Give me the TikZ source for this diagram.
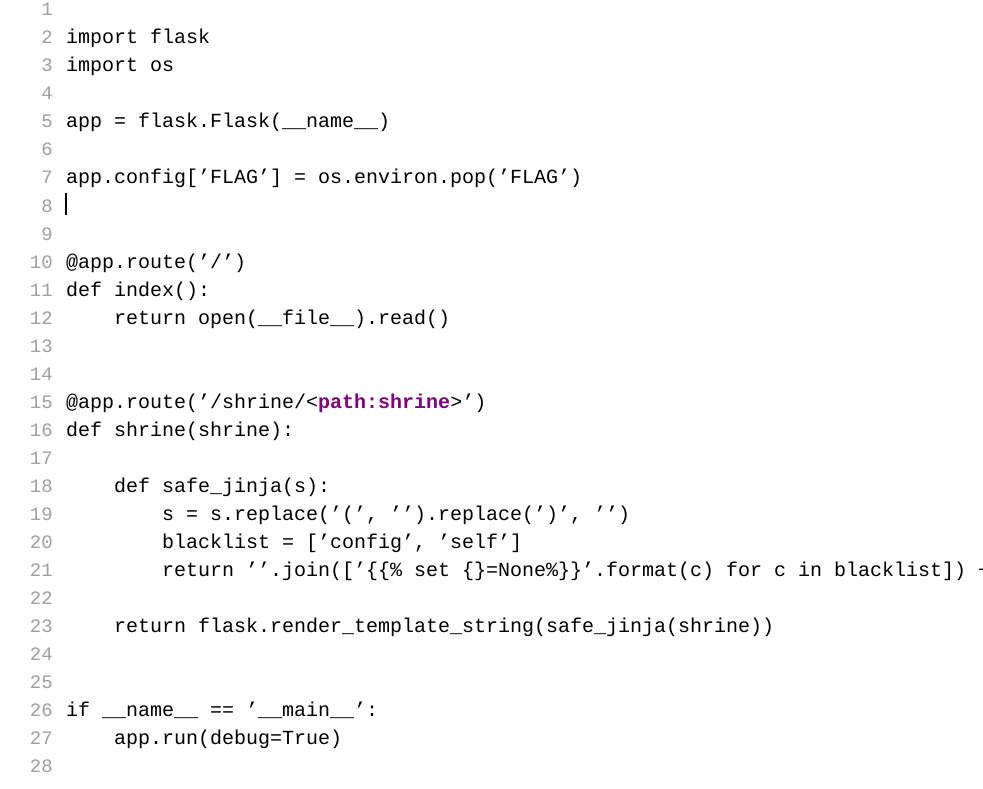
\documentclass[tikz,border=0pt]{standalone}
\usepackage{fontspec}
\setmonofont{Liberation Mono}
\definecolor{numgray}{HTML}{A0A0A0}
\definecolor{kwpurple}{HTML}{800080}
\tikzset{
  code/.style={anchor=base west,inner sep=0pt,font=\fontsize{20}{20}\ttfamily,text=black},
  num/.style={anchor=base east,inner sep=0pt,font=\fontsize{19}{19}\ttfamily,text=numgray}
}
\newcommand{\cl}[3]{%
  \node[num] (n#1) at (53,{-(44+28*(#1-2))}) {#1};
  \node[code] (c#1) at ({66+12*#2},{-(44+28*(#1-2))}) {#3};}
\begin{document}
\begin{tikzpicture}[x=1pt,y=1pt]
\useasboundingbox (0,0) rectangle (983,-789);
\fill[white] (0,0) rectangle (983,-789);
\clip (0,0) rectangle (983,-789);
\node[num] (n1) at (53,-16) {1};
\cl{2}{0}{import flask}
\cl{3}{0}{import os}
\node[num] (n4) at (53,-100) {4};
\cl{5}{0}{app = flask.Flask(\_\_name\_\_)}
\node[num] (n6) at (53,-156) {6};
\cl{7}{0}{app.config[’FLAG’] = os.environ.pop(’FLAG’)}
\node[num] (n8) at (53,-212) {8};
\coordinate (ct) at (66,-193);
\coordinate (cb) at (66,-215);
\draw[line width=1.2pt] (ct) -- (cb);
\node[num] (n9) at (53,-240) {9};
\cl{10}{0}{@app.route(’/’)}
\cl{11}{0}{def index():}
\cl{12}{4}{return open(\_\_file\_\_).read()}
\node[num] (n13) at (53,-352) {13};
\node[num] (n14) at (53,-380) {14};
\cl{15}{0}{@app.route(’/shrine/<\textcolor{kwpurple}{\bfseries path:shrine}>’)}
\cl{16}{0}{def shrine(shrine):}
\node[num] (n17) at (53,-464) {17};
\cl{18}{4}{def safe\_jinja(s):}
\cl{19}{8}{s = s.replace(’(’, ’’).replace(’)’, ’’)}
\cl{20}{8}{blacklist = [’config’, ’self’]}
\cl{21}{8}{return ’’.join([’\{\{\% set \{\}=None\%\}\}’.format(c) for c in blacklist]) +}
\node[num] (n22) at (53,-604) {22};
\cl{23}{4}{return flask.render\_template\_string(safe\_jinja(shrine))}
\node[num] (n24) at (53,-660) {24};
\node[num] (n25) at (53,-688) {25};
\cl{26}{0}{if \_\_name\_\_ == ’\_\_main\_\_’:}
\cl{27}{4}{app.run(debug=True)}
\node[num] (n28) at (53,-772) {28};
\end{tikzpicture}
\end{document}
